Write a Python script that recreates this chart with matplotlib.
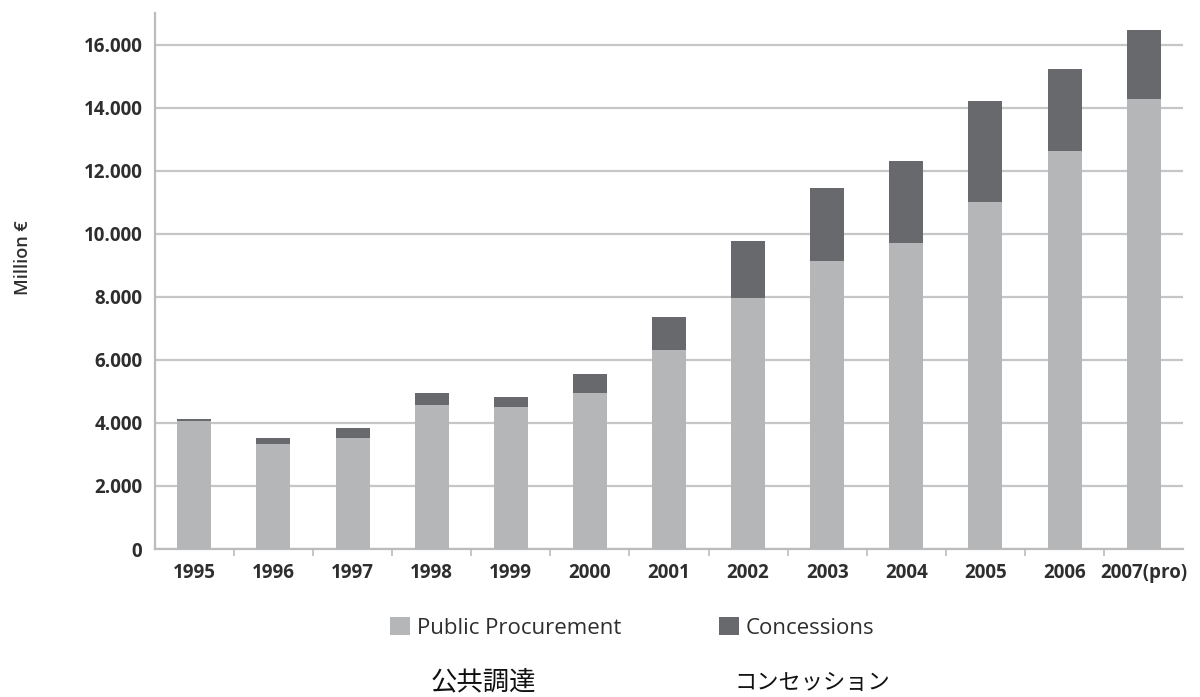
import matplotlib
matplotlib.use("Agg")
import matplotlib.pyplot as plt
from matplotlib.patches import Patch
from matplotlib.ticker import FuncFormatter, FixedLocator
import numpy as np

# Annual contract value, million euro
years = ["1995", "1996", "1997", "1998", "1999", "2000", "2001",
         "2002", "2003", "2004", "2005", "2006", "2007(pro)"]
public_procurement = [4050, 3330, 3520, 4560, 4500, 4950, 6330,
                      7960, 9130, 9720, 11020, 12640, 14270]
concessions = [60, 190, 320, 390, 320, 590, 1030,
               1810, 2320, 2580, 3190, 2600, 2210]
y_ticks = [0, 2000, 4000, 6000, 8000, 10000, 12000, 14000, 16000]

pp_color = "#b5b6b8"
co_color = "#68696d"
grid_color = "#c6c6c6"
text_color = "#2e2e2e"

fig = plt.figure(figsize=(12, 6.97), dpi=100)
ax = fig.add_axes([0.129, 0.2123, 0.857, 0.7687])

x = np.arange(len(years))
w = 0.43
ax.bar(x, public_procurement, width=w, color=pp_color, zorder=3,
       label="Public Procurement")
ax.bar(x, concessions, width=w, bottom=public_procurement, color=co_color,
       zorder=3, label="Concessions")

ax.set_xlim(-0.5, len(years) - 0.5)
ax.set_ylim(0, 17000)
ax.yaxis.set_major_locator(FixedLocator(y_ticks))
ax.yaxis.set_major_formatter(
    FuncFormatter(lambda v, p: "0" if v == 0 else f"{int(v):,}".replace(",", ".")))
ax.grid(axis="y", color=grid_color, linewidth=1.6, zorder=0)

for side in ["top", "right"]:
    ax.spines[side].set_visible(False)
for side in ["left", "bottom"]:
    ax.spines[side].set_color("#bcbcbc")
    ax.spines[side].set_linewidth(1.6)

ax.set_xticks(x)
ax.set_xticklabels(years)
ax.set_xticks(np.arange(0.5, len(years) - 0.5, 1), minor=True)
ax.tick_params(axis="x", which="major", length=0, pad=10)
ax.tick_params(axis="x", which="minor", length=5, width=1.2, color="#bcbcbc",
               direction="out")
ax.tick_params(axis="y", length=0, pad=9)

for lab in ax.get_xticklabels() + ax.get_yticklabels():
    lab.set_fontfamily("Open Sans")
    lab.set_fontweight("bold")
    lab.set_fontsize(13.5)
    lab.set_color(text_color)

fig.text(0.019, 0.631, "Million €", rotation=90, ha="center", va="center",
         fontsize=13, family="Open Sans", fontweight="semibold",
         color=text_color)

handles = [Patch(facecolor=pp_color, label="Public Procurement"),
           Patch(facecolor=co_color, label="Concessions")]
fig.legend(handles=handles, loc="center", bbox_to_anchor=(0.527, 0.0995),
           ncol=2, frameon=False, handlelength=0.9, handleheight=0.9,
           handletextpad=0.3, columnspacing=4.4,
           prop={"family": "Open Sans", "size": 16}, labelcolor=text_color)

fig.text(0.403, 0.021, "公共調達", ha="center", va="center", fontsize=19,
         family=["Noto Sans CJK JP", "DejaVu Sans"], color="#111111")
fig.text(0.677, 0.021, "コンセッション", ha="center", va="center", fontsize=16,
         family=["Noto Sans CJK JP", "DejaVu Sans"], color="#111111")

fig.savefig("out.png", dpi=100, facecolor="white")
